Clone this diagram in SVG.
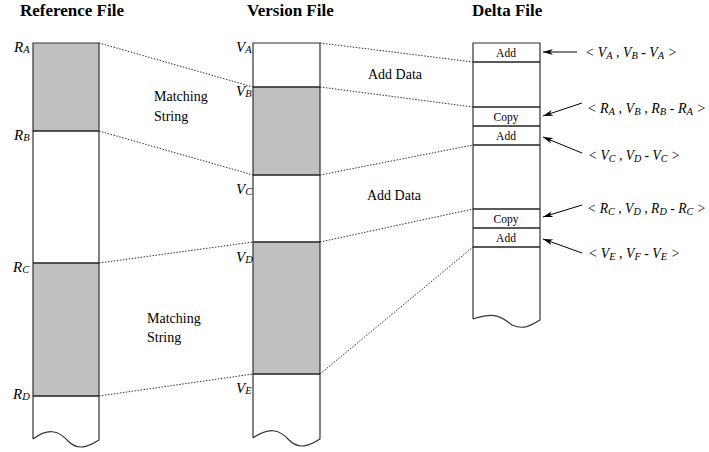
<svg xmlns="http://www.w3.org/2000/svg" width="709" height="452" viewBox="0 0 709 452">
<style>
.title{font-family:"Liberation Serif",serif;font-weight:bold;font-size:17px;fill:#000}
.lbl{font-family:"Liberation Serif",serif;font-size:14px;fill:#000}
.box{font-family:"Liberation Serif",serif;font-size:11.5px;fill:#000;text-anchor:middle}
.it{font-family:"Liberation Serif",serif;font-style:italic;font-size:15px;fill:#000}
.dl{font-family:"Liberation Serif",serif;font-style:italic;font-size:14px;fill:#000}
.sub{font-size:10.5px}
.col{fill:none;stroke:#333;stroke-width:1.2}
.shade{fill:#c0c0c0}
.edge{stroke:#222;stroke-width:1.3}
.dot{stroke:#333;stroke-width:1;stroke-dasharray:1.5 1.5;fill:none}
.arr{stroke:#000;stroke-width:1;fill:none;marker-end:url(#ah)}
</style>
<defs>
<marker id="ah" viewBox="0 0 10 6" refX="10" refY="3" markerWidth="10" markerHeight="6" markerUnits="userSpaceOnUse" orient="auto">
<path d="M0,0 L10,3 L0,6 L3,3 Z" fill="#000"/>
</marker>
</defs>
<rect width="709" height="452" fill="#fff"/>

<g id="reference-file">
<text class="title" x="20" y="16">Reference File</text>
<rect class="shade" x="33" y="43" width="66" height="88"/>
<rect class="shade" x="33" y="263" width="66" height="133"/>
<path class="col" d="M33,439 L33,43 L99,43 L99,440 C88,447 78,451 68,441 C58,430 48,428 33,439"/>
<line class="edge" x1="33" y1="131" x2="99" y2="131"/>
<line class="edge" x1="33" y1="263" x2="99" y2="263"/>
<line class="edge" x1="33" y1="396" x2="99" y2="396"/>
<text class="it" x="14" y="52">R<tspan class="sub" dy="1">A</tspan></text>
<text class="it" x="14" y="140">R<tspan class="sub" dy="1">B</tspan></text>
<text class="it" x="13" y="272">R<tspan class="sub" dy="1">C</tspan></text>
<text class="it" x="13" y="399">R<tspan class="sub" dy="1">D</tspan></text>
<text class="lbl" x="154" y="101">Matching</text>
<text class="lbl" x="154" y="121">String</text>
<text class="lbl" x="147" y="323">Matching</text>
<text class="lbl" x="147" y="342">String</text>
</g>

<g id="version-file">
<text class="title" x="247" y="16">Version File</text>
<rect class="shade" x="253" y="87" width="67" height="88"/>
<rect class="shade" x="253" y="242" width="67" height="132"/>
<path class="col" d="M253,438 L253,43 L320,43 L320,439 C309,446 299,450 289,440 C279,429 269,427 253,438"/>
<line class="edge" x1="253" y1="87" x2="320" y2="87"/>
<line class="edge" x1="253" y1="175" x2="320" y2="175"/>
<line class="edge" x1="253" y1="242" x2="320" y2="242"/>
<line class="edge" x1="253" y1="374" x2="320" y2="374"/>
<text class="it" x="236" y="52">V<tspan class="sub" dy="1">A</tspan></text>
<text class="it" x="236" y="96">V<tspan class="sub" dy="1">B</tspan></text>
<text class="it" x="236" y="194">V<tspan class="sub" dy="1">C</tspan></text>
<text class="it" x="236" y="262">V<tspan class="sub" dy="1">D</tspan></text>
<text class="it" x="236" y="393">V<tspan class="sub" dy="1">E</tspan></text>
<text class="lbl" x="368" y="79">Add Data</text>
<text class="lbl" x="367" y="200">Add Data</text>
</g>

<g id="delta-file">
<text class="title" x="472" y="16">Delta File</text>
<path class="col" d="M473,319 L473,43 L540,43 L540,320 C530,326 524,330 512,325 C503,318 497,311 473,319"/>
<line class="edge" x1="473" y1="62" x2="540" y2="62"/>
<line class="edge" x1="473" y1="107" x2="540" y2="107"/>
<line class="edge" x1="473" y1="126" x2="540" y2="126"/>
<line class="edge" x1="473" y1="145" x2="540" y2="145"/>
<line class="edge" x1="473" y1="209" x2="540" y2="209"/>
<line class="edge" x1="473" y1="228" x2="540" y2="228"/>
<line class="edge" x1="473" y1="247" x2="540" y2="247"/>
<text class="box" x="506" y="57">Add</text>
<text class="box" x="506" y="121">Copy</text>
<text class="box" x="506" y="140">Add</text>
<text class="box" x="506" y="223">Copy</text>
<text class="box" x="506" y="242">Add</text>
</g>

<g id="delta-labels">
<text class="dl" x="585" y="57" textLength="92" lengthAdjust="spacingAndGlyphs">&lt; V<tspan class="sub" dy="2">A</tspan><tspan dy="-2"> , V</tspan><tspan class="sub" dy="2">B</tspan><tspan dy="-2"> - V</tspan><tspan class="sub" dy="2">A</tspan><tspan dy="-2"> &gt;</tspan></text>
<text class="dl" x="587" y="113" textLength="119" lengthAdjust="spacingAndGlyphs">&lt; R<tspan class="sub" dy="2">A</tspan><tspan dy="-2"> , V</tspan><tspan class="sub" dy="2">B</tspan><tspan dy="-2"> , R</tspan><tspan class="sub" dy="2">B</tspan><tspan dy="-2"> - R</tspan><tspan class="sub" dy="2">A</tspan><tspan dy="-2"> &gt;</tspan></text>
<text class="dl" x="588" y="160" textLength="92" lengthAdjust="spacingAndGlyphs">&lt; V<tspan class="sub" dy="2">C</tspan><tspan dy="-2"> , V</tspan><tspan class="sub" dy="2">D</tspan><tspan dy="-2"> - V</tspan><tspan class="sub" dy="2">C</tspan><tspan dy="-2"> &gt;</tspan></text>
<text class="dl" x="587" y="213" textLength="119" lengthAdjust="spacingAndGlyphs">&lt; R<tspan class="sub" dy="2">C</tspan><tspan dy="-2"> , V</tspan><tspan class="sub" dy="2">D</tspan><tspan dy="-2"> , R</tspan><tspan class="sub" dy="2">D</tspan><tspan dy="-2"> - R</tspan><tspan class="sub" dy="2">C</tspan><tspan dy="-2"> &gt;</tspan></text>
<text class="dl" x="588" y="258" textLength="92" lengthAdjust="spacingAndGlyphs">&lt; V<tspan class="sub" dy="2">E</tspan><tspan dy="-2"> , V</tspan><tspan class="sub" dy="2">F</tspan><tspan dy="-2"> - V</tspan><tspan class="sub" dy="2">E</tspan><tspan dy="-2"> &gt;</tspan></text>
</g>

<g id="connectors">
<line class="dot" x1="99" y1="43" x2="253" y2="87"/>
<line class="dot" x1="99" y1="131" x2="253" y2="175"/>
<line class="dot" x1="99" y1="263" x2="253" y2="242"/>
<line class="dot" x1="99" y1="396" x2="253" y2="374"/>
<line class="dot" x1="320" y1="43" x2="473" y2="62"/>
<line class="dot" x1="320" y1="87" x2="473" y2="107"/>
<line class="dot" x1="320" y1="175" x2="473" y2="145"/>
<line class="dot" x1="320" y1="242" x2="473" y2="209"/>
<line class="dot" x1="320" y1="374" x2="473" y2="247"/>
<line class="arr" x1="577" y1="52" x2="543" y2="52"/>
<line class="arr" x1="582" y1="103" x2="543" y2="116"/>
<line class="arr" x1="582" y1="153" x2="543" y2="137"/>
<line class="arr" x1="582" y1="205" x2="543" y2="217"/>
<line class="arr" x1="582" y1="253" x2="543" y2="239"/>
</g>
</svg>
